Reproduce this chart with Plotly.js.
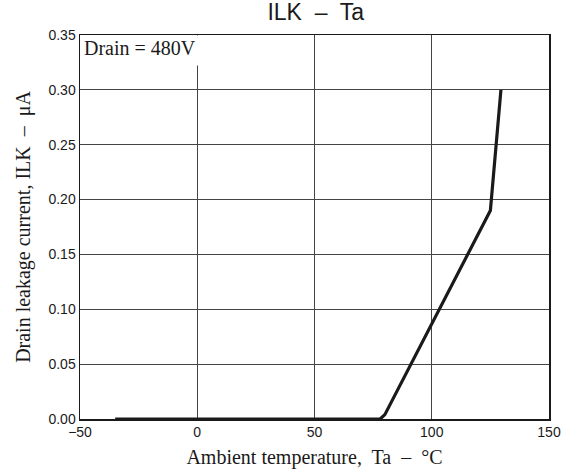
<!DOCTYPE html>
<html>
<head>
<meta charset="utf-8">
<script src="https://cdn.plot.ly/plotly-3.0.1.min.js"></script>
<style>html,body{margin:0;padding:0;background:#fff;}#chart{width:571px;height:472px;}</style>
</head>
<body>
<div id="chart"></div>
<script>
// Data
var tempC = [-35, 78, 80, 125, 129.5];
var leakageUA = [0.0, 0.0, 0.004, 0.19, 0.30];
var xTickVals = [-50, 0, 50, 100, 150];
var xTickText = ['\u221250', '0', '50', '100', '150'];
var yTickVals = [0, 0.05, 0.10, 0.15, 0.20, 0.25, 0.30, 0.35];
var yTickText = ['0.00', '0.05', '0.10', '0.15', '0.20', '0.25', '0.30', '0.35'];
var noteText = 'Drain = 480V';

var trace = {
  x: tempC, y: leakageUA, mode: 'lines', type: 'scatter',
  line: {color: '#1a1a1a', width: 3.2}, hoverinfo: 'skip', showlegend: false
};

var sans = 'Liberation Sans, Arial, sans-serif';
var serif = 'Liberation Serif, Times New Roman, serif';

var layout = {
  width: 571, height: 472,
  margin: {l: 80, r: 22, t: 35, b: 53},
  paper_bgcolor: '#fff', plot_bgcolor: '#fff',
  title: {text: 'ILK  \u2013  Ta', font: {family: sans, size: 23, color: '#1a1a1a'},
          x: 0.553, xanchor: 'center', y: 1, yanchor: 'top', pad: {t: 4}},
  xaxis: {
    range: [-50, 150], tickvals: xTickVals, ticktext: xTickText,
    showgrid: true, gridcolor: '#444', gridwidth: 1,
    showline: true, linecolor: '#1a1a1a', linewidth: 1.5, mirror: true,
    ticks: '', zeroline: false,
    tickfont: {family: sans, size: 14, color: '#1a1a1a'},
    title: {text: 'Ambient temperature,  Ta  \u2013  \u00B0C', font: {family: serif, size: 20, color: '#1a1a1a'}, standoff: 10}
  },
  yaxis: {
    range: [0, 0.35], tickvals: yTickVals, ticktext: yTickText,
    showgrid: true, gridcolor: '#444', gridwidth: 1,
    showline: true, linecolor: '#1a1a1a', linewidth: 1.5, mirror: true,
    ticks: '', zeroline: false,
    tickfont: {family: sans, size: 14, color: '#1a1a1a'},
    title: {text: 'Drain leakage current, ILK  \u2013  \u03BCA', font: {family: serif, size: 20, color: '#1a1a1a'}, standoff: 12}
  },
  annotations: [{
    xref: 'paper', yref: 'paper', x: 0, y: 1, xanchor: 'left', yanchor: 'top',
    xshift: 2, yshift: 0,
    text: noteText, showarrow: false, align: 'left', valign: 'top',
    width: 114, height: 27, bgcolor: '#fff', borderpad: 1,
    font: {family: serif, size: 20, color: '#1a1a1a'}
  }]
};

Plotly.newPlot('chart', [trace], layout, {displayModeBar: false, staticPlot: true});
</script>
</body>
</html>
